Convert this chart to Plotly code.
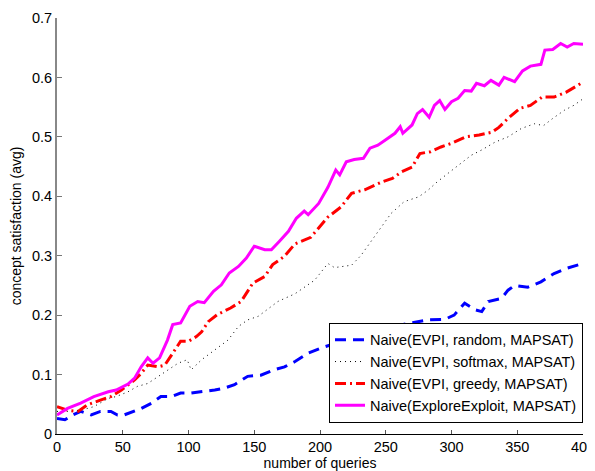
import plotly.graph_objects as go

# ---------------- data ----------------
random_x = [0, 6, 12, 18, 26, 33, 41, 46, 51, 58, 64, 72, 79, 87, 94, 102, 110, 120, 127, 135, 145, 155,
            165, 173, 181, 191, 201, 215, 230, 245, 254, 267, 282, 295, 302, 310, 318, 323, 328, 338, 343,
            348, 358, 368, 378, 388, 400]
random_y = [0.026, 0.024, 0.032, 0.038, 0.032, 0.038, 0.038, 0.032, 0.032, 0.038, 0.043, 0.052, 0.063, 0.063,
            0.069, 0.069, 0.071, 0.074, 0.077, 0.083, 0.097, 0.099, 0.108, 0.113, 0.122, 0.136, 0.145, 0.155,
            0.165, 0.175, 0.180, 0.186, 0.192, 0.193, 0.200, 0.220, 0.209, 0.206, 0.223, 0.228, 0.242, 0.250,
            0.247, 0.256, 0.270, 0.279, 0.287]

softmax_x = [0, 8, 18, 28, 39, 45, 54, 61, 69, 77, 84, 92, 99, 102, 110, 115, 122, 130, 138, 145, 153, 160,
             168, 176, 181, 196, 206, 211, 224, 231, 244, 254, 264, 275, 282, 289, 297, 307, 315, 323, 333, 343,
             353, 363, 370, 377, 386, 393, 400]
softmax_y = [0.038, 0.038, 0.040, 0.046, 0.060, 0.063, 0.071, 0.080, 0.085, 0.097, 0.108, 0.119, 0.125, 0.108,
             0.125, 0.133, 0.144, 0.158, 0.181, 0.192, 0.198, 0.209, 0.223, 0.231, 0.236, 0.259, 0.287, 0.280,
             0.284, 0.300, 0.340, 0.371, 0.391, 0.399, 0.410, 0.424, 0.438, 0.455, 0.469, 0.478, 0.491, 0.500,
             0.514, 0.522, 0.519, 0.531, 0.545, 0.553, 0.564]

greedy_x = [0, 8, 16, 23, 33, 41, 49, 59, 64, 69, 77, 82, 88, 94, 100, 106, 110, 115, 122, 132, 140, 149, 158,
            164, 173, 181, 193, 201, 206, 216, 224, 234, 247, 255, 262, 270, 276, 284, 292, 300, 311, 321, 331,
            336, 343, 352, 360, 369, 378, 387, 394, 400]
greedy_y = [0.046, 0.040, 0.038, 0.049, 0.057, 0.063, 0.074, 0.091, 0.102, 0.116, 0.113, 0.116, 0.136, 0.156,
            0.156, 0.164, 0.172, 0.189, 0.201, 0.212, 0.223, 0.254, 0.265, 0.285, 0.299, 0.320, 0.331, 0.351,
            0.365, 0.382, 0.405, 0.411, 0.424, 0.430, 0.441, 0.449, 0.472, 0.475, 0.483, 0.489, 0.500, 0.503,
            0.508, 0.516, 0.531, 0.548, 0.553, 0.567, 0.567, 0.575, 0.584, 0.592]

explore_x = [0, 8, 18, 28, 39, 45, 54, 59, 64, 69, 73, 78, 84, 88, 94, 101, 107, 112, 119, 125, 131, 138, 144,
             150, 158, 163, 169, 176, 182, 188, 191, 199, 206, 212, 215, 220, 226, 233, 238, 244, 250, 257, 261,
             263, 270, 274, 278, 283, 287, 291, 295, 300, 305, 310, 315, 319, 325, 330, 336, 340, 348, 354, 360,
             368, 371, 377, 383, 388, 393, 400]
explore_y = [0.032, 0.043, 0.052, 0.063, 0.071, 0.074, 0.084, 0.094, 0.113, 0.128, 0.119, 0.128, 0.158, 0.184,
             0.187, 0.215, 0.223, 0.221, 0.240, 0.251, 0.271, 0.282, 0.296, 0.316, 0.310, 0.310, 0.324, 0.341,
             0.363, 0.375, 0.369, 0.388, 0.415, 0.444, 0.436, 0.458, 0.462, 0.464, 0.481, 0.486, 0.495, 0.506,
             0.517, 0.506, 0.520, 0.539, 0.546, 0.533, 0.553, 0.561, 0.546, 0.559, 0.565, 0.578, 0.577, 0.590,
             0.586, 0.595, 0.587, 0.600, 0.593, 0.611, 0.619, 0.622, 0.646, 0.647, 0.657, 0.651, 0.657, 0.656]

series_names = ["Naive(EVPI, random, MAPSAT)", "Naive(EVPI, softmax, MAPSAT)",
                "Naive(EVPI, greedy, MAPSAT)", "Naive(ExploreExploit, MAPSAT)"]

x_ticks = [0, 50, 100, 150, 200, 250, 300, 350, 400]
y_ticks = [0, 0.1, 0.2, 0.3, 0.4, 0.5, 0.6, 0.7]
y_tick_labels = ["0", "0.1", "0.2", "0.3", "0.4", "0.5", "0.6", "0.7"]

# ---------------- figure ----------------
FONT = "Arial, 'Liberation Sans', Helvetica, sans-serif"
fig = go.Figure()

styles = [
    dict(color="#0000FF", width=3, dash="11px,7px"),
    dict(color="#000000", width=1, dash="1px,4px"),
    dict(color="#FF0000", width=3, dash="11px,4px,2px,4px"),
    dict(color="#FF00FF", width=3, dash="solid"),
]
data = [(random_x, random_y), (softmax_x, softmax_y), (greedy_x, greedy_y), (explore_x, explore_y)]

for i, ((xs, ys), name, st) in enumerate(zip(data, series_names, styles)):
    fig.add_trace(go.Scatter(x=xs, y=ys, mode="lines", name=name, line=st,
                             legendgroup=f"g{i}"))

# page body has an 8px default margin, so the figure is offset by 8px
fig.update_layout(
    width=587, height=463,
    margin=dict(l=49, r=12, t=10, b=37, autoexpand=False),
    paper_bgcolor="white", plot_bgcolor="white",
    font=dict(family=FONT, size=14, color="black"),
    showlegend=True,
    legend=dict(x=1, y=0.027, xanchor="right", yanchor="bottom",
                bgcolor="white", bordercolor="black", borderwidth=1,
                font=dict(family=FONT, size=14.5, color="black"),
                tracegroupgap=5, traceorder="normal"),
    xaxis=dict(range=[0, 400], tickvals=x_ticks, ticks="inside", ticklen=4, tickcolor="#555",
               showline=True, linecolor="black", linewidth=1, showgrid=False, zeroline=False,
               mirror=False, tickfont=dict(size=14.5), automargin=False, ticklabeloverflow="allow",
               title=dict(text="number of queries", font=dict(size=14), standoff=2)),
    yaxis=dict(range=[0, 0.7], tickvals=y_ticks, ticktext=y_tick_labels, ticks="inside", ticklen=5,
               tickcolor="#777", showline=True, linecolor="#888", linewidth=2, showgrid=False,
               zeroline=False, mirror=False, tickfont=dict(size=14.5), automargin=False,
               ticklabeloverflow="allow",
               title=dict(text="concept satisfaction (avg)", font=dict(size=14), standoff=12)),
)

fig.write_html("out.html")
